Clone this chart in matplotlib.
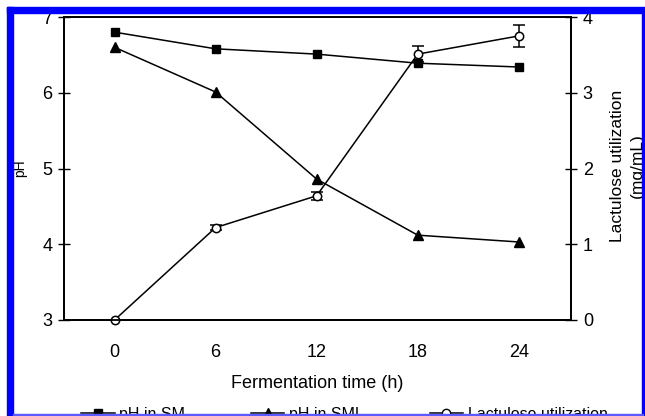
import matplotlib
matplotlib.use("Agg")
from matplotlib import pyplot as plt
from matplotlib.patches import Rectangle
from matplotlib.lines import Line2D

plt.rcParams['font.family'] = ['Liberation Sans', 'DejaVu Sans']

# data
time_h = [0, 6, 12, 18, 24]
ph_sm = [6.80, 6.58, 6.51, 6.39, 6.34]
ph_sml = [6.60, 6.01, 4.86, 4.12, 4.03]
lactulose = [0.0, 1.22, 1.64, 3.51, 3.75]
lactulose_err = [0.0, 0.03, 0.05, 0.11, 0.15]
xtick_labels = ["0", "6", "12", "18", "24"]

W, H = 645, 416
fig = plt.figure(figsize=(W / 100, H / 100), dpi=100)
ax = fig.add_axes([64 / W, 1 - 320 / H, (571 - 64) / W, (320 - 17) / H])
ax2 = ax.twinx()

ax.plot(time_h, ph_sm, color="black", lw=1.1, marker="s", ms=6,
        label="pH in SM", clip_on=False)
ax.plot(time_h, ph_sml, color="black", lw=1.1, marker="^", ms=7,
        label="pH in SML", clip_on=False)
ax2.errorbar(time_h, lactulose, yerr=lactulose_err, color="black", lw=1.1,
             marker="o", ms=6, mfc="white", mec="black", mew=1.1,
             capsize=4, elinewidth=1.1, label="Lactulose utilization",
             clip_on=False)

ax.set_xlim(-3, 27.1)
ax.set_ylim(3, 7)
ax2.set_ylim(0, 4)
ax.set_xticks(time_h)
ax.set_xticklabels(xtick_labels)
ax.set_yticks([3, 4, 5, 6, 7])
ax2.set_yticks([0, 1, 2, 3, 4])

for a in (ax, ax2):
    for s in a.spines.values():
        s.set_linewidth(1.3)
ax.tick_params(axis="x", length=0, labelsize=13, pad=17)
ax.tick_params(axis="y", direction="inout", length=9, width=1, labelsize=13, pad=4)
ax2.tick_params(axis="y", direction="inout", length=9, width=1, labelsize=13, pad=4)

ax.set_xlabel("Fermentation time (h)", fontsize=13, labelpad=10)
fig.text(20 / W, 1 - 168 / H, "pH", rotation=90, fontsize=10,
         ha="center", va="center")
fig.text(627 / W, 1 - 166 / H, "Lactulose utilization\n(mg/mL)", rotation=90,
         fontsize=12.5, ha="center", va="center", multialignment="center",
         linespacing=1.4)

handles = [
    Line2D([], [], color="black", lw=1.1, marker="s", ms=6),
    Line2D([], [], color="black", lw=1.1, marker="^", ms=7),
    Line2D([], [], color="black", lw=1.1, marker="o", ms=6, mfc="white"),
]
fig.legend(handles, ["pH in SM", "pH in SML", "Lactulose utilization"],
           loc="center", bbox_to_anchor=(0.534, 1 - 414.5 / H), ncol=3,
           frameon=False, fontsize=11.5, handlelength=2.1,
           columnspacing=4.1, handletextpad=0.3)

# blue frame of the screenshot
blue = "#0000ff"
fig.patches.append(Rectangle((7 / W, 0), 6 / W, 1 - 7 / H, transform=fig.transFigure,
                             color=blue, zorder=10))
fig.patches.append(Rectangle((7 / W, 1 - 13 / H), 1, 6 / H, transform=fig.transFigure,
                             color=blue, zorder=10))
fig.patches.append(Rectangle((642 / W, 0), 1.5 / W, 1 - 12 / H, transform=fig.transFigure,
                             color=blue, zorder=10))
fig.patches.append(Rectangle((13 / W, 0.5 / H), 630 / W, 1.2 / H, transform=fig.transFigure,
                             color="#5a5aff", zorder=10))

fig.savefig("out.png", dpi=100)
